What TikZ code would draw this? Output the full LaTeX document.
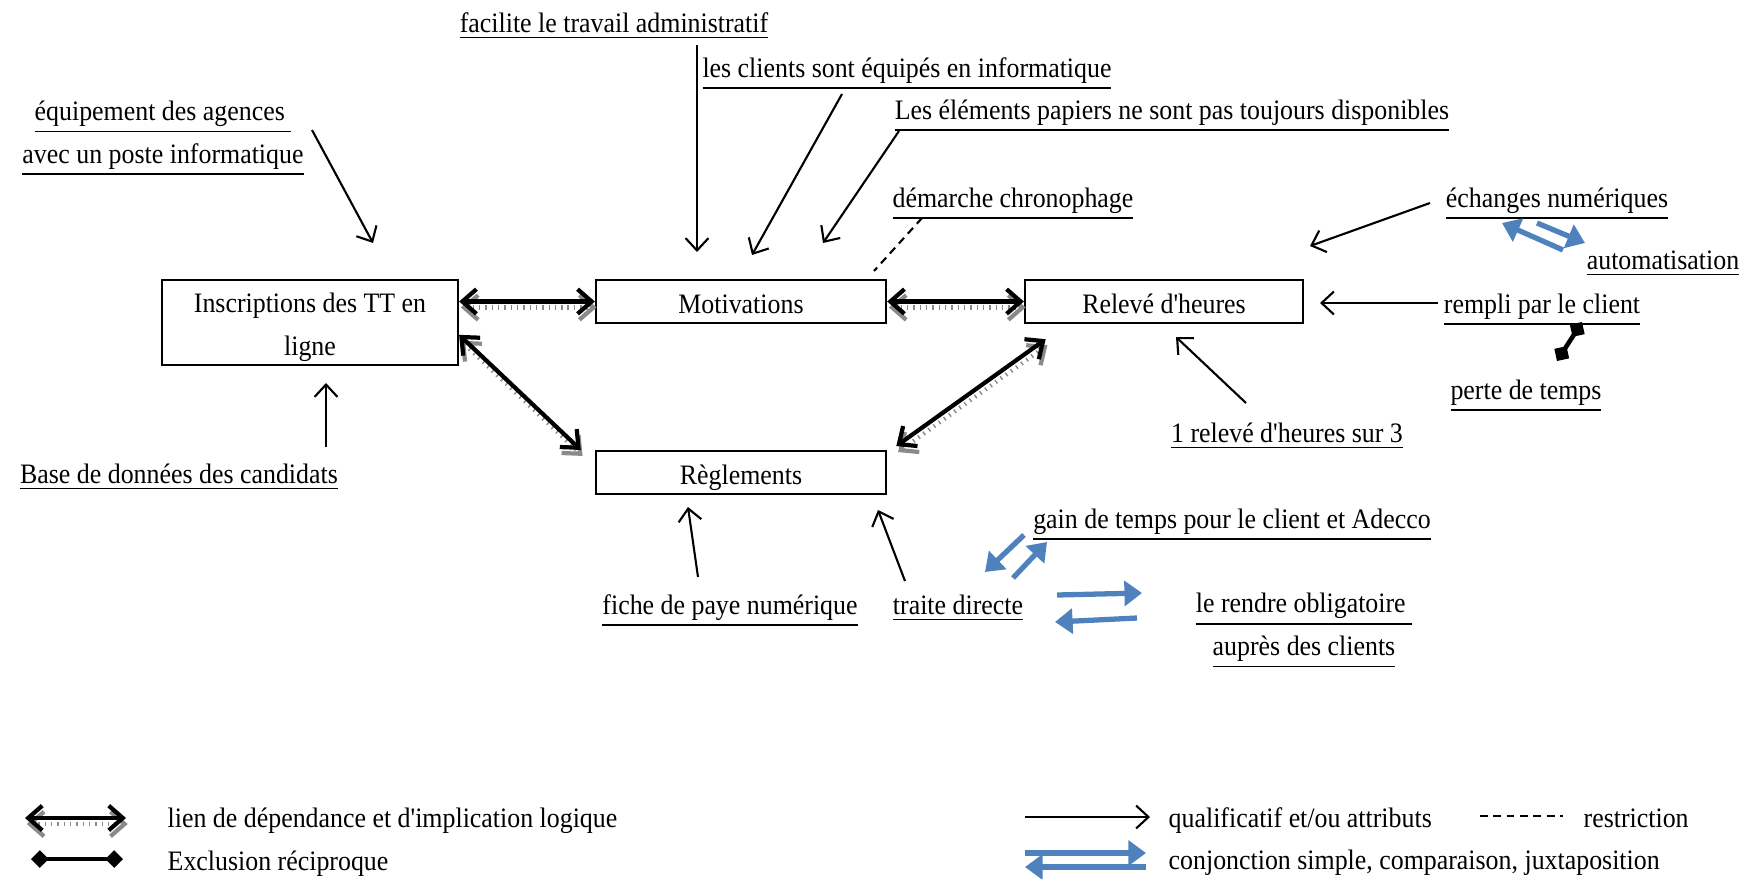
\documentclass[tikz,border=0pt]{standalone}
\usepackage{fontspec}
\setmainfont[FakeStretch=0.92, Ligatures=TeXOff]{Liberation Serif}
\usetikzlibrary{arrows.meta, calc}
\definecolor{ink}{HTML}{000000}
\definecolor{conj}{HTML}{4F81BD}
\definecolor{shade}{HTML}{8A8A8A}
\tikzset{
  font=\fontsize{8}{12.2}\selectfont,
  %
  concept/.style={draw=ink, line width=0.6pt, align=center, inner sep=2pt,
                  text=ink},
  oneline/.style={concept, text height=6.6pt, text depth=0pt},
  lbl/.style={anchor=base, inner sep=1pt, text=ink},
  lbltwo/.style={align=center, inner sep=1pt, text=ink},
  legtxt/.style={anchor=base west, inner sep=0pt, text=ink},
  %
  qual/.style={draw=ink, line width=0.6pt,
               -{Straight Barb[length=3.5pt, width=6.5pt]}},
  restr/.style={draw=ink, line width=0.6pt, dash pattern=on 2.2pt off 1.6pt},
  link/.style={draw=ink, line width=1.2pt,
               {Straight Barb[length=4pt, width=7pt]}-{Straight Barb[length=4pt, width=7pt]},
               preaction={draw=shade, line width=1.2pt,
                          dash pattern=on 0.4pt off 1.4pt,
                          transform canvas={shift={(0.5pt,-1.7pt)}}}},
  excl/.style={draw=ink, line width=1.3pt,
               {Diamond[length=5pt, width=5pt]}-{Diamond[length=5pt, width=5pt]}},
  conjarr/.style={draw=conj, line width=1.5pt,
                  -{Triangle[length=5pt, width=7pt]}},
}

\begin{document}
\begin{tikzpicture}[x=0.01cm, y=-0.01cm]

  \useasboundingbox (0,0) rectangle (1751,878);

  % concepts
  \node[concept, inner ysep=0pt, minimum width=29.6mm, minimum height=8.5mm] (insc)
    at (310,322.5) {\rule{0pt}{8.4pt}Inscriptions des TT en\\ligne};
  \node[oneline, minimum width=29mm, minimum height=4.3mm] (mot)
    at (741,301.5) {Motivations};
  \node[oneline, minimum width=27.8mm, minimum height=4.3mm] (rel)
    at (1164,301.5) {Relevé d'heures};
  \node[oneline, minimum width=29mm, minimum height=4.3mm] (regl)
    at (741,472.5) {Règlements};

  % qualifiers
  \node[lbl] (facil) at (614,32) {\underline{facilite le travail administratif}};
  \node[lbl] (clients) at (907,77) {\underline{les clients sont équipés en informatique}};
  \node[lbl] (elem) at (1172,119) {\underline{Les éléments papiers ne sont pas toujours disponibles}};
  \node[lbltwo] (equip) at (163,138.5)
    {\underline{équipement des agences\ }\\\underline{avec un poste informatique}};
  \node[lbl] (demarche) at (1013,207) {\underline{démarche chronophage}};
  \node[lbl] (echanges) at (1557,207) {\underline{échanges numériques}};
  \node[lbl] (autom) at (1663,269) {\underline{automatisation}};
  \node[lbl] (rempli) at (1542,313) {\underline{rempli par le client}};
  \node[lbl] (perte) at (1526,399) {\underline{perte de temps}};
  \node[lbl] (unsur) at (1287,442) {\underline{1 relevé d'heures sur 3}};
  \node[lbl] (base) at (179,483) {\underline{Base de données des candidats}};
  \node[lbl] (gain) at (1232,528) {\underline{gain de temps pour le client et Adecco}};
  \node[lbl] (fiche) at (730,614) {\underline{fiche de paye numérique}};
  \node[lbl] (traite) at (958,614) {\underline{traite directe}};
  \node[lbltwo] (rendre) at (1304,631)
    {\underline{le rendre obligatoire\ }\\\underline{auprès des clients}};

  % free ends
  \coordinate (equip-a) at (312,130);   \coordinate (equip-b) at (373,243);
  \coordinate (base-a) at (326,447);    \coordinate (base-b) at (326,383);
  \coordinate (facil-a) at (697,45);    \coordinate (facil-b) at (697,252);
  \coordinate (clients-a) at (842,94);  \coordinate (clients-b) at (752,255);
  \coordinate (elem-a) at (899,131);    \coordinate (elem-b) at (823,243);
  \coordinate (dem-a) at (922,218);     \coordinate (dem-b) at (874,271);
  \coordinate (ech-a) at (1430,203);    \coordinate (ech-b) at (1310,246);
  \coordinate (rempli-a) at (1438,303); \coordinate (rempli-b) at (1320,303);
  \coordinate (unsur-a) at (1246,403);  \coordinate (unsur-b) at (1176,337);
  \coordinate (fiche-a) at (698,577);   \coordinate (fiche-b) at (688,507);
  \coordinate (traite-a) at (905,581);  \coordinate (traite-b) at (878,510);
  \coordinate (perte-a) at (1582,322);  \coordinate (perte-b) at (1557,361);

  % dependance links
  \draw[link] (insc.east |- mot.west) -- (mot.west);
  \draw[link] (mot.east) -- (rel.west);
  \draw[link] ([yshift=-3.5pt]insc.east) -- ([xshift=-4pt]regl.north west);
  \draw[link] ([shift={(6.2pt,-4.3pt)}]rel.south west)
    -- ([shift={(2.6pt,1.1pt)}]regl.north east);

  % qualifiers
  \draw[qual] (equip-a) -- (equip-b);
  \draw[qual] (base-a) -- (base-b);
  \draw[qual] (facil-a) -- (facil-b);
  \draw[qual] (clients-a) -- (clients-b);
  \draw[qual] (elem-a) -- (elem-b);
  \draw[restr] (dem-a) -- (dem-b);
  \draw[qual] (ech-a) -- (ech-b);
  \draw[qual] (rempli-a) -- (rempli-b);
  \draw[qual] (unsur-a) -- (unsur-b);
  \draw[qual] (fiche-a) -- (fiche-b);
  \draw[qual] (traite-a) -- (traite-b);
  \draw[excl] (perte-a) -- (perte-b);

  % conjunctions
  \coordinate (c1a) at (1563,250); \coordinate (c1b) at (1502,223);
  \coordinate (c2a) at (1537,223); \coordinate (c2b) at (1585,243);
  \coordinate (c3a) at (1024,535); \coordinate (c3b) at (985,572);
  \coordinate (c4a) at (1013,578); \coordinate (c4b) at (1047,542);
  \coordinate (c5a) at (1057,595); \coordinate (c5b) at (1142,593);
  \coordinate (c6a) at (1137,618); \coordinate (c6b) at (1055,622);
  \draw[conjarr] (c1a) -- (c1b);
  \draw[conjarr] (c2a) -- (c2b);
  \draw[conjarr] (c3a) -- (c3b);
  \draw[conjarr] (c4a) -- (c4b);
  \draw[conjarr] (c5a) -- (c5b);
  \draw[conjarr] (c6a) -- (c6b);

  % legend
  \coordinate (lg1a) at (25,818);   \coordinate (lg1b) at (126,818);
  \coordinate (lg2a) at (31,859);   \coordinate (lg2b) at (123,859);
  \coordinate (lg3a) at (1025,817); \coordinate (lg3b) at (1150,817);
  \coordinate (lg4a) at (1480,816); \coordinate (lg4b) at (1563,816);
  \coordinate (lg5a) at (1025,853); \coordinate (lg5b) at (1146,853);
  \coordinate (lg6a) at (1146,867); \coordinate (lg6b) at (1025,867);
  \draw[link] (lg1a) -- (lg1b);
  \draw[excl] (lg2a) -- (lg2b);
  \draw[qual] (lg3a) -- (lg3b);
  \draw[restr] (lg4a) -- (lg4b);
  \draw[conjarr] (lg5a) -- (lg5b);
  \draw[conjarr] (lg6a) -- (lg6b);

  \node[legtxt] (leg-link) at (167,827) {lien de dépendance et d'implication logique};
  \node[legtxt] (leg-excl) at (167,870) {Exclusion réciproque};
  \node[legtxt] (leg-qual) at (1168,827) {qualificatif et/ou attributs};
  \node[legtxt] (leg-restr) at (1583,827) {restriction};
  \node[legtxt] (leg-conj) at (1168,869) {conjonction simple, comparaison, juxtaposition};

\end{tikzpicture}
\end{document}
